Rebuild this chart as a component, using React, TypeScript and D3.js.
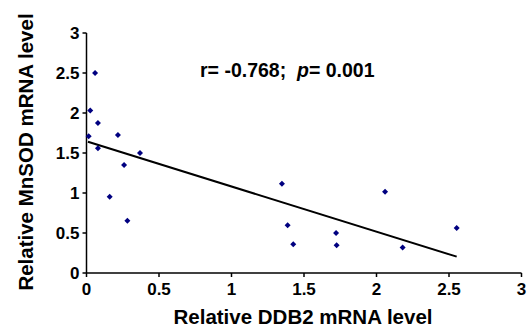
import React from "react";
import * as d3 from "d3";

const ddb2 = [0.059, 0.026, 0.079, 0.015, 0.217, 0.079, 0.369, 0.259, 0.16, 0.282, 1.348, 2.059, 1.387, 1.721, 2.553, 1.426, 1.725, 2.18];
const mnsod = [2.5, 2.03, 1.875, 1.71, 1.725, 1.56, 1.5, 1.35, 0.954, 0.654, 1.116, 1.016, 0.596, 0.5, 0.5625, 0.359, 0.346, 0.32];
const fitX = [0.01, 2.553];
const fitIntercept = 1.646;
const fitSlope = -0.5647;
const xTicks = [0, 0.5, 1, 1.5, 2, 2.5, 3];
const yTicks = [0, 0.5, 1, 1.5, 2, 2.5, 3];

const W = 530, H = 329;
const x0 = 86.5, x1 = 521.5, yb = 273, yt = 33;

export default function App() {
  const x = d3.scaleLinear().domain([0, 3]).range([x0, x1]);
  const y = d3.scaleLinear().domain([0, 3]).range([yb, yt]);
  const sym = d3.symbol(d3.symbolSquare, 18)()!;
  const line = d3.line<number>().x((v) => x(v)).y((v) => y(fitIntercept + fitSlope * v));
  const ts: React.CSSProperties = { fontFamily: "'Liberation Sans', Arial, sans-serif", fontWeight: 700 };
  return (
    <svg width={W} height={H} style={{ position: "absolute", left: 0, top: 0 }}>
      <rect width={W} height={H} fill="#fff" />
      <line x1={x0} x2={x0} y1={yt} y2={yb} stroke="#000" strokeWidth={1.5} />
      <line x1={x0} x2={x1} y1={yb} y2={yb} stroke="#000" strokeWidth={1.5} />
      {yTicks.map((t) => (
        <g key={"y" + t}>
          <line x1={x0 - 4} x2={x0} y1={y(t)} y2={y(t)} stroke="#000" strokeWidth={1.5} />
          <text x={x0 - 7} y={y(t)} dy="0.36em" textAnchor="end" style={{ ...ts, fontSize: 17 }}>{t}</text>
        </g>
      ))}
      {xTicks.map((t) => (
        <g key={"x" + t}>
          <line x1={x(t)} x2={x(t)} y1={yb} y2={yb + 4} stroke="#000" strokeWidth={1.5} />
          <text x={x(t)} y={294.5} textAnchor="middle" style={{ ...ts, fontSize: 17 }}>{t}</text>
        </g>
      ))}
      <path d={line(fitX) || ""} fill="none" stroke="#000" strokeWidth={2} />
      {ddb2.map((v, i) => (
        <path key={i} d={sym} transform={`translate(${x(v)},${y(mnsod[i])}) rotate(45)`} fill="#000080" />
      ))}
      <text x={200} y={77} style={{ ...ts, fontSize: 19.5, whiteSpace: "pre" }}>
        {"r= -0.768;  "}<tspan style={{ fontStyle: "italic" }}>p</tspan>{"= 0.001"}
      </text>
      <text x={303} y={324} textAnchor="middle" style={{ ...ts, fontSize: 20.5 }}>Relative DDB2 mRNA level</text>
      <text transform={`translate(33,152) rotate(-90)`} textAnchor="middle" style={{ ...ts, fontSize: 20.5 }}>Relative MnSOD mRNA level</text>
    </svg>
  );
}
